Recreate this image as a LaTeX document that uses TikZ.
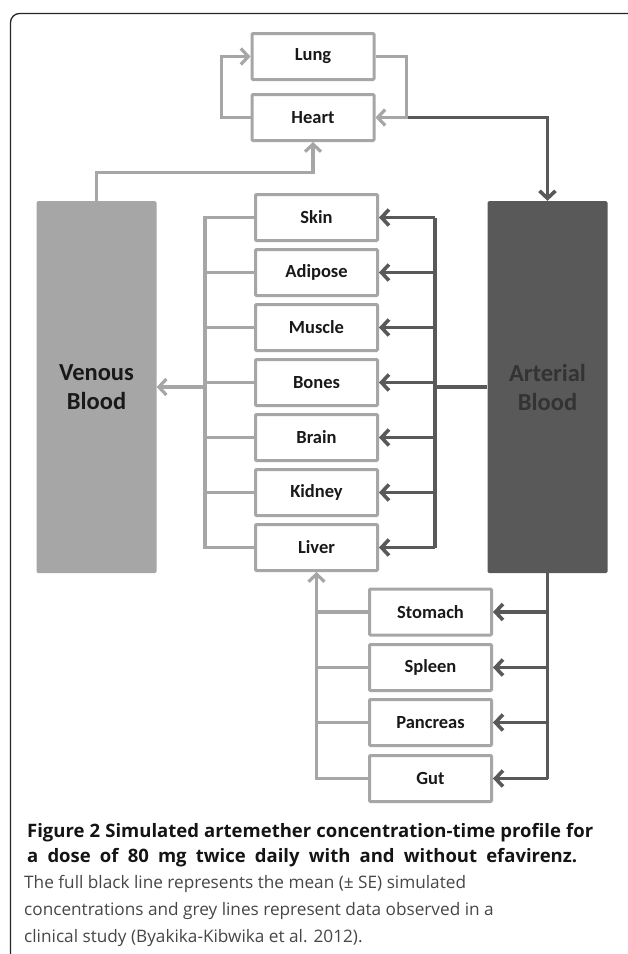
\documentclass[tikz,border=0pt]{standalone}
\usepackage{fontspec}
\setmainfont{Carlito}
\newfontfamily\capfont{Open Sans}
\usetikzlibrary{arrows.meta,calc}
\definecolor{lg}{HTML}{A6A6A6}
\definecolor{dk}{HTML}{595959}
\definecolor{atext}{HTML}{333333}
\begin{document}
\begin{tikzpicture}[x=1pt,y=-1pt,
  organ/.style={draw=lg,line width=3pt,fill=white,minimum width=122pt,minimum height=46pt,inner sep=0pt,rounded corners=1pt,font=\bfseries\fontsize{18.5}{20}\selectfont,text=black!90},
  blood/.style={minimum width=120pt,minimum height=372pt,inner sep=0pt,rounded corners=1.5pt,align=center,font=\bfseries\fontsize{24.5}{29}\selectfont},
  gl/.style={draw=lg,line width=3.2pt},
  dl/.style={draw=dk,line width=3.6pt},
  tip/.style={-{Straight Barb[length=7.5pt,width=16pt]}},
  capb/.style={anchor=base west,inner sep=0pt,font=\capfont\bfseries\fontsize{18.5}{20}\selectfont,text=black!92},
  capr/.style={anchor=base west,inner sep=0pt,font=\capfont\fontsize{17.2}{20}\selectfont,text=black!72},
]
\useasboundingbox (0,0) rectangle (628,954);
\fill[white] (0,0) rectangle (628,954);
% frame
\draw[line width=1.3pt,black!85,rounded corners=9pt] (628,13.5) -- (10.5,13.5) -- (10.5,954);

% blood compartments
\node[blood,fill=lg,text=black!90] (venous) at (96.5,387) {Venous\\Blood};
\node[blood,fill=dk,text=atext] (arterial) at (547.5,387) {Arterial\\Blood};

% organs
\node[organ] (lung) at (313,56.5) {Lung};
\node[organ] (heart) at (313,117.5) {Heart};
\node[organ] (skin) at (316.5,217.5) {Skin};
\node[organ] (adipose) at (316.5,272.5) {Adipose};
\node[organ] (muscle) at (316.5,327.5) {Muscle};
\node[organ] (bones) at (316.5,382.5) {Bones};
\node[organ] (brain) at (316.5,437.5) {Brain};
\node[organ] (kidney) at (316.5,492.5) {Kidney};
\node[organ] (liver) at (316.5,547.5) {Liver};
\node[organ] (stomach) at (430.5,612) {Stomach};
\node[organ] (spleen) at (430.5,667.5) {Spleen};
\node[organ] (pancreas) at (430.5,722.5) {Pancreas};
\node[organ] (gut) at (430.5,778.5) {Gut};

\coordinate (lbus) at (205,0);
\coordinate (rbus) at (435,0);
\coordinate (hloop) at ($(heart.east)+(31,0)$);

% heart - lung loop
\draw[dl,tip] (hloop) -| (arterial.north);
\draw[gl,tip] (heart.west) -- ++(-29,0) |- (lung.west);
\draw[gl,tip] (lung.east) -- ++(31,0) |- (heart.east);
\draw[gl,tip] (venous.north) -- ++(0,-28) -| (heart.south);

% venous return bus
\draw[gl] (skin.west) -- (skin.west -| lbus) -- (liver.west -| lbus) -- (liver.west);
\foreach \o in {adipose,muscle,bones,brain,kidney}
  \draw[gl] (\o.west) -- (\o.west -| lbus);
\draw[gl,tip] (venous.east -| lbus) -- (venous.east);

% arterial supply bus
\draw[dl] (skin.east -| rbus) -- (liver.east -| rbus);
\draw[dl] (arterial.west) -- (arterial.west -| rbus);
\foreach \o in {skin,adipose,muscle,bones,brain,kidney,liver}
  \draw[dl,tip] (\o.east -| rbus) -- (\o.east);

% splanchnic
\draw[dl] (arterial.south) -- (arterial.south |- gut.east);
\foreach \o in {stomach,spleen,pancreas,gut}
  \draw[dl,tip] (\o.east -| arterial.south) -- (\o.east);
\draw[gl,tip] (gut.west) -- (gut.west -| liver.south) -- (liver.south);
\foreach \o in {stomach,spleen,pancreas}
  \draw[gl] (\o.west) -- (\o.west -| liver.south);

% caption
\node[capb] (c1) at (27,837) {\makebox[566pt][s]{Figure 2 Simulated artemether concentration-time profile for}};
\node[capb] (c2) at (27,862) {\makebox[550pt][s]{a dose of 80 mg twice daily with and without efavirenz.}};
\node[capr] (c3) at (24,888) {The full black line represents the mean (± SE) simulated};
\node[capr] (c4) at (24,915) {concentrations and grey lines represent data observed in a};
\node[capr] (c5) at (24,942) {clinical study (Byakika-Kibwika et al. 2012).};
\end{tikzpicture}
\end{document}
